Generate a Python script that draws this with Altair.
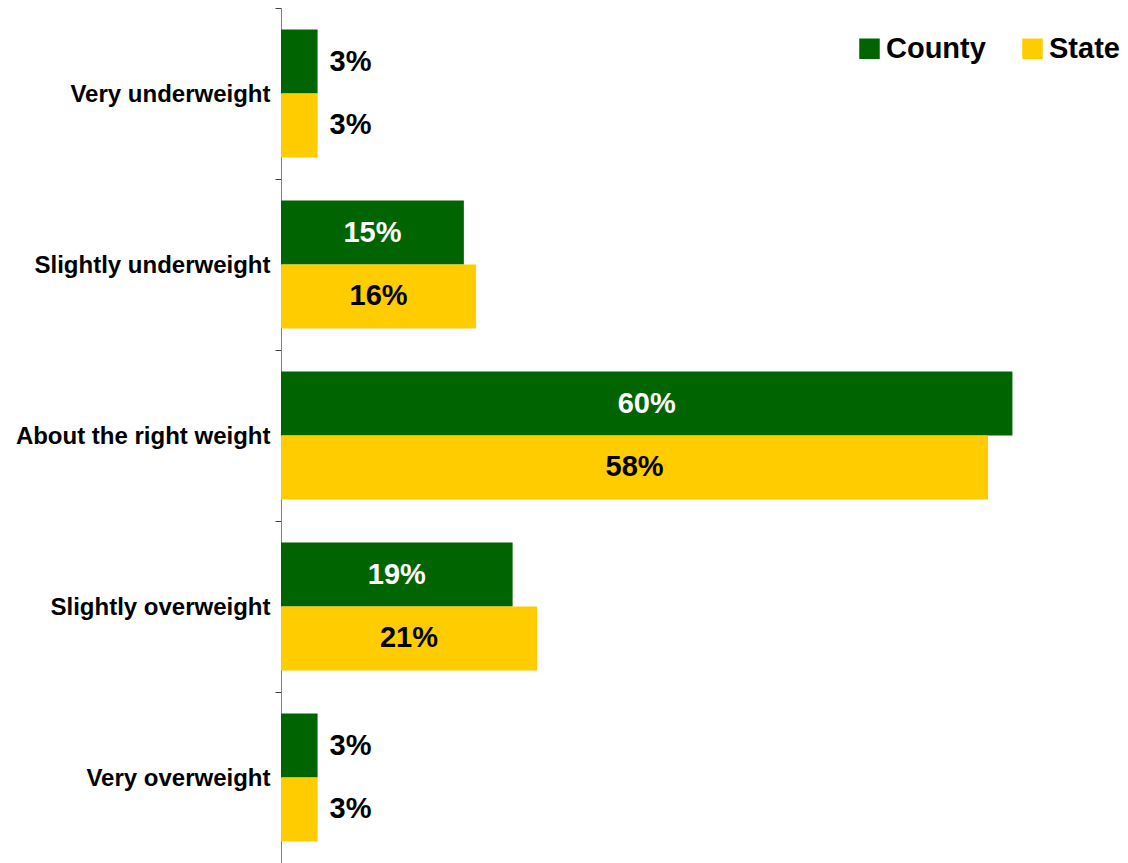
import altair as alt
import pandas as pd

categories = ["Very underweight", "Slightly underweight", "About the right weight",
              "Slightly overweight", "Very overweight"]
county = [3, 15, 60, 19, 3]
state = [3, 16, 58, 21, 3]
series_names = ["County", "State"]
colors = ["#006400", "#FFCC00"]

rows = []
for c, a, b in zip(categories, county, state):
    rows.append({"category": c, "series": "County", "value": a})
    rows.append({"category": c, "series": "State", "value": b})
df = pd.DataFrame(rows)
df["label"] = df["value"].astype(str) + "%"

FONT = "Liberation Sans"

y_enc = alt.Y("category:N", sort=categories, title=None,
              scale=alt.Scale(paddingInner=0, paddingOuter=0),
              axis=alt.Axis(tickBand="extent", grid=False, domainColor="#808080",
                            tickColor="#404040",
                            tickSize=6, labelPadding=5, labelFont=FONT, labelFontSize=24,
                            labelFontWeight="bold", labelColor="black", labelLimit=400,
                            labelBaseline="middle", labelOffset=1))
yoff = alt.YOffset("series:N", sort=series_names,
                   scale=alt.Scale(paddingInner=0, paddingOuter=0.336))
x_scale = alt.Scale(domain=[0, 68.25], nice=False, zero=True)

bars = alt.Chart(df).mark_bar(strokeWidth=0).encode(
    y=y_enc,
    yOffset=yoff,
    x=alt.X("value:Q", scale=x_scale, axis=None),
    color=alt.Color("series:N", sort=series_names,
                    scale=alt.Scale(domain=series_names, range=colors),
                    legend=alt.Legend(title=None, orient="none", direction="horizontal",
                                      legendX=574, legendY=26, symbolType="square",
                                      symbolSize=420, symbolStrokeWidth=0, symbolOpacity=1,
                                      labelFont=FONT, labelFontSize=29, labelFontWeight="bold",
                                      labelColor="black", labelOffset=2, columnPadding=32,
                                      padding=0)),
)

txt_color = alt.when(alt.datum.series == "County", alt.datum.value >= 10).then(
    alt.value("white")).otherwise(alt.value("black"))

inside = alt.Chart(df).transform_filter(alt.datum.value >= 10).transform_calculate(
    mid="datum.value / 2").mark_text(
    font=FONT, fontSize=29, fontWeight="bold", align="center", baseline="middle").encode(
    y=alt.Y("category:N", sort=categories),
    yOffset=yoff,
    x=alt.X("mid:Q", scale=x_scale, axis=None),
    text="label:N",
    color=txt_color,
)

outside = alt.Chart(df).transform_filter(alt.datum.value < 10).mark_text(
    font=FONT, fontSize=29, fontWeight="bold", align="left", baseline="middle", dx=12,
    color="black").encode(
    y=alt.Y("category:N", sort=categories),
    yOffset=yoff,
    x=alt.X("value:Q", scale=x_scale, axis=None),
    text="label:N",
)

chart = alt.layer(bars, inside, outside).properties(
    width=832, height=855,
    autosize=alt.AutoSizeParams(type="none"),
    padding={"left": 273, "top": 0, "right": 7, "bottom": 0},
).configure(background="white").configure_view(
    strokeWidth=0, stroke="transparent").configure_axis(grid=False)

chart.save("out.html", embed_options={"renderer": "svg", "actions": False})
